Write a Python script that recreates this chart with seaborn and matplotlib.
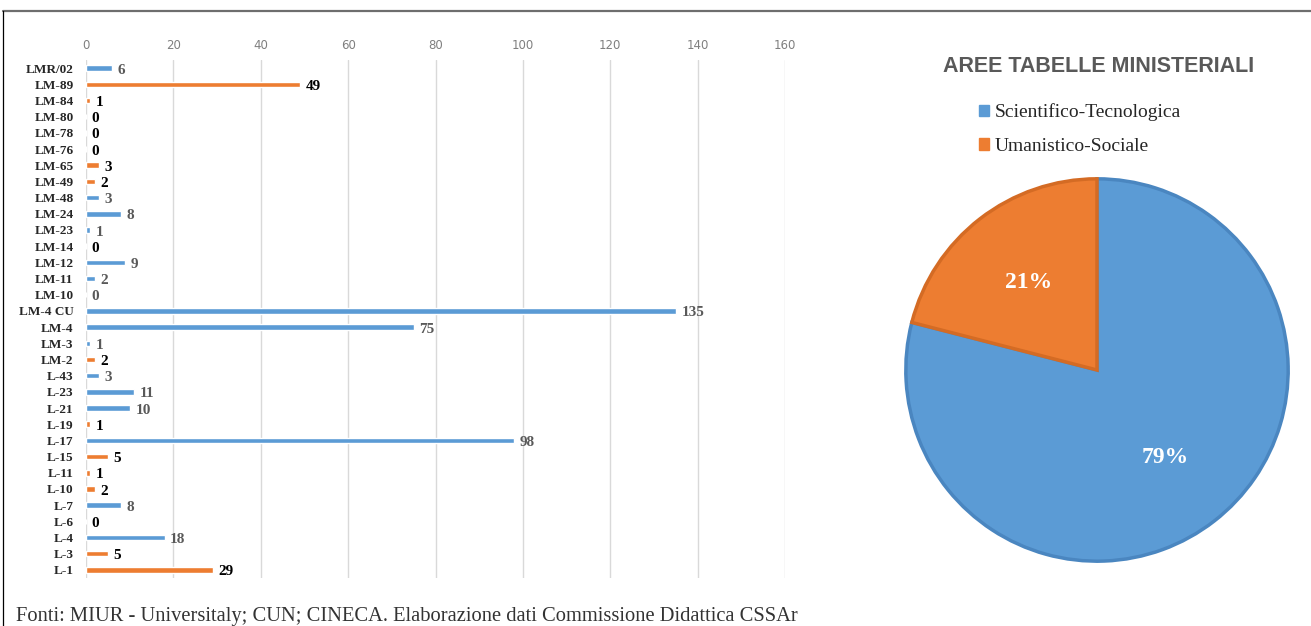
"""
Classi di laurea per area: barre orizzontali + torta delle aree.
"""
import pandas as pd
import matplotlib.pyplot as plt
from matplotlib.lines import Line2D
from matplotlib.patches import Patch
import seaborn as sns

sns.set_style('white')

# dati (dall'alto verso il basso)
classi = ['LMR/02', 'LM-89', 'LM-84', 'LM-80', 'LM-78', 'LM-76', 'LM-65',
          'LM-49', 'LM-48', 'LM-24', 'LM-23', 'LM-14', 'LM-12', 'LM-11',
          'LM-10', 'LM-4 CU', 'LM-4', 'LM-3', 'LM-2', 'L-43', 'L-23', 'L-21',
          'L-19', 'L-17', 'L-15', 'L-11', 'L-10', 'L-7', 'L-6', 'L-4', 'L-3',
          'L-1']
valori = [6, 49, 1, 0, 0, 0, 3, 2, 3, 8, 1, 0, 9, 2, 0, 135, 75, 1, 2, 3, 11,
          10, 1, 98, 5, 1, 2, 8, 0, 18, 5, 29]
aree = ['S', 'U', 'U', 'U', 'U', 'U', 'U', 'U', 'S', 'S', 'S', 'U', 'S', 'S',
        'S', 'S', 'S', 'S', 'U', 'S', 'S', 'S', 'U', 'S', 'U', 'U', 'U', 'S',
        'U', 'S', 'U', 'U']

nomi_aree = ['Scientifico-Tecnologica', 'Umanistico-Sociale']
quote_aree = [79, 21]

BLU, ARANCIO = '#5b9bd5', '#ed7d31'
BLU_BORDO, ARANCIO_BORDO = '#4a86c0', '#d46b24'
SERIF = ['Liberation Serif', 'DejaVu Serif']

df = pd.DataFrame({'classe': classi, 'valore': valori,
                   'area': [nomi_aree[0] if a == 'S' else nomi_aree[1] for a in aree]})

W, H = 1311, 626
fig = plt.figure(figsize=(W / 100, H / 100), dpi=100)

# --- barre ---
ax = fig.add_axes([86 / W, 1 - 578 / H, (785 - 86) / W, (578 - 60) / H])
sns.barplot(data=df, x='valore', y='classe', hue='area', order=classi,
            hue_order=nomi_aree, palette=[BLU, ARANCIO], saturation=1,
            dodge=False, width=0.34, legend=False, orient='h', ax=ax, zorder=3)
ax.set_xlim(0, 160)
ax.set_xticks(range(0, 161, 20))
ax.xaxis.tick_top()
ax.tick_params(axis='x', length=0, pad=6, labelsize=8.5, labelcolor='#7f7f7f')
ax.tick_params(axis='y', length=0, pad=9)
for t in ax.get_yticklabels():
    t.set_fontfamily(SERIF)
    t.set_fontweight('bold')
    t.set_fontsize(9.5)
ax.grid(axis='x', color='#d9d9d9', linewidth=1)
ax.set_axisbelow(True)
for s in ax.spines.values():
    s.set_visible(False)
ax.set_xlabel('')
ax.set_ylabel('')

for i, (v, a) in enumerate(zip(valori, aree)):
    ax.annotate(str(v), (v, i), xytext=(4, -1.5), textcoords='offset points',
                va='center', ha='left', family=SERIF, fontweight='bold',
                fontsize=11, color='#595959' if a == 'S' else 'black')

# --- torta ---
cx, cy, r = 1097, 370, 195
ax2 = fig.add_axes([(cx - r) / W, 1 - (cy + r) / H, 2 * r / W, 2 * r / H])
wedges, _, autotexts = ax2.pie(
    quote_aree, colors=[BLU, ARANCIO], startangle=90, counterclock=False,
    autopct=lambda p: f'{p:.0f}%', pctdistance=0.58,
    wedgeprops=dict(linewidth=2.5),
    textprops=dict(color='white', fontweight='bold', fontsize=17, family=SERIF))
for w, ec in zip(wedges, [BLU_BORDO, ARANCIO_BORDO]):
    w.set_edgecolor(ec)
ax2.set_xlim(-1.02, 1.02)
ax2.set_ylim(-1.02, 1.02)

fig.text(1099 / W, 1 - 67 / H, 'AREE TABELLE MINISTERIALI', ha='center',
         va='center', fontsize=15.5, fontweight='bold', color='#595959',
         family=['Liberation Sans', 'DejaVu Sans'])
fig.legend(handles=[Patch(color=BLU), Patch(color=ARANCIO)], labels=nomi_aree,
           loc='upper left', bbox_to_anchor=(961 / W, 1 - 86 / H), frameon=False,
           handlelength=0.55, handleheight=0.55, handletextpad=0.3,
           labelspacing=0.85, prop=dict(family=SERIF, size=14))

# cornice e nota
fig.add_artist(Line2D([3 / W, 1], [1 - 11 / H] * 2, color='#6e6e6e', linewidth=1.6))
fig.add_artist(Line2D([3 / W] * 2, [0, 1 - 11 / H], color='black', linewidth=0.9))
fig.text(16 / W, 1 - 617 / H,
         'Fonti: MIUR - Universitaly; CUN; CINECA. Elaborazione dati Commissione Didattica CSSAr',
         ha='left', va='center', fontsize=14.8, color='#333333', family=SERIF)

fig.savefig('out.png', dpi=100)
